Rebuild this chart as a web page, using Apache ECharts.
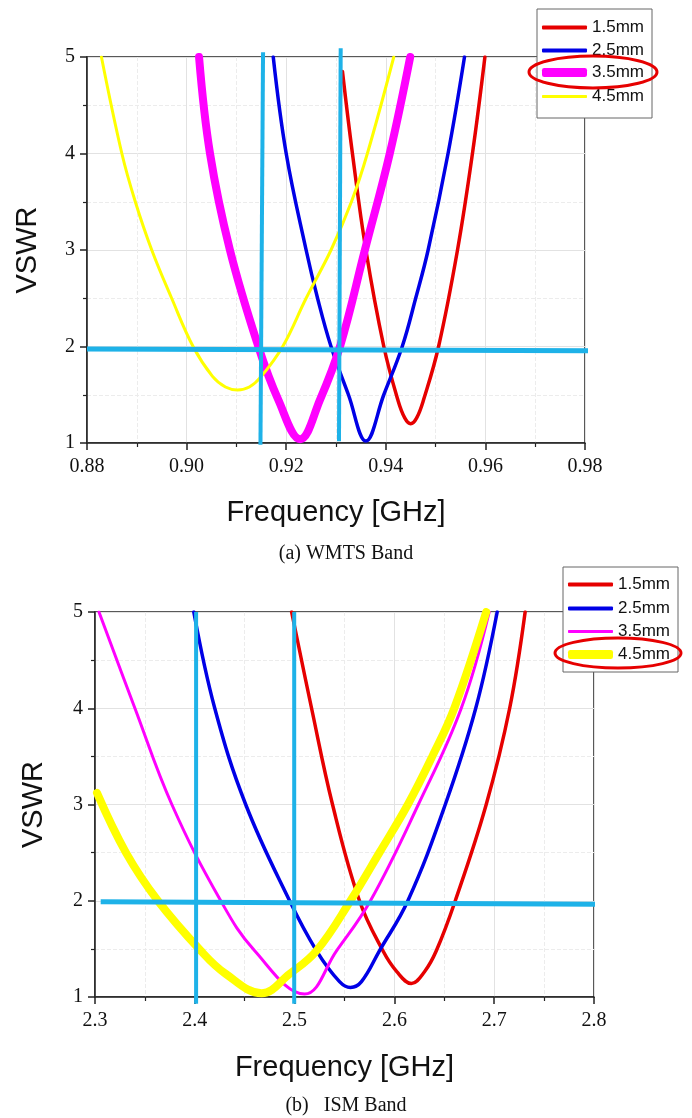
<!DOCTYPE html>
<html>
<head>
<meta charset="utf-8">
<style>
  html, body { margin: 0; padding: 0; background: #fff; }
  #chart { width: 692px; height: 1118px; }
</style>
<script src="https://cdn.jsdelivr.net/npm/echarts@6/dist/echarts.min.js"></script>
</head>
<body>
<div id="chart"></div>
<script>
// Series names (slot depth)
const seriesNames = ['1.5mm', '2.5mm', '3.5mm', '4.5mm'];

// (a) WMTS band: [frequency GHz, VSWR]
const wmts15 = [[0.9313, 4.85], [0.9333, 4.0], [0.9360, 3.0], [0.9396, 2.0], [0.9424, 1.45], [0.9438, 1.26], [0.9450, 1.2], [0.9462, 1.26], [0.9476, 1.45], [0.9506, 2.0], [0.9544, 3.0], [0.9574, 4.0], [0.9599, 5.0]];
const wmts25 = [[0.9174, 5.0], [0.9200, 4.0], [0.9240, 3.0], [0.9263, 2.5], [0.9290, 2.0], [0.9325, 1.5], [0.9360, 1.02], [0.9396, 1.5], [0.9433, 2.0], [0.9460, 2.5], [0.9485, 3.0], [0.9525, 4.0], [0.9558, 5.0]];
const wmts35 = [[0.9025, 5.0], [0.9047, 4.0], [0.9087, 3.0], [0.9144, 2.0], [0.9184, 1.45], [0.9228, 1.04], [0.9268, 1.45], [0.9308, 2.0], [0.9358, 3.0], [0.9408, 4.0], [0.9449, 5.0]];
const wmts45 = [[0.8829, 5.0], [0.8870, 4.0], [0.8897, 3.5], [0.8930, 3.0], [0.8970, 2.5], [0.9013, 2.0], [0.9052, 1.69], [0.9078, 1.58], [0.9102, 1.55], [0.9126, 1.58], [0.9150, 1.69], [0.9193, 2.0], [0.9240, 2.5], [0.9290, 3.0], [0.9331, 3.5], [0.9363, 4.0], [0.9416, 5.0]];

// (b) ISM band: [frequency GHz, VSWR]
const ism15 = [[2.497, 5.0], [2.517, 4.0], [2.538, 3.0], [2.565, 2.0], [2.5885, 1.48], [2.6026, 1.26], [2.617, 1.14], [2.630, 1.26], [2.642, 1.48], [2.661, 2.0], [2.692, 3.0], [2.7155, 4.0], [2.731, 5.0]];
const ism25 = [[2.399, 5.0], [2.420, 4.0], [2.451, 3.0], [2.495, 2.0], [2.522, 1.48], [2.545, 1.16], [2.556, 1.10], [2.567, 1.16], [2.585, 1.48], [2.6135, 2.0], [2.651, 3.0], [2.6815, 4.0], [2.703, 5.0]];
const ism35 = [[2.304, 5.0], [2.340, 4.0], [2.377, 3.0], [2.426, 2.0], [2.460, 1.48], [2.510, 1.03], [2.542, 1.48], [2.576, 2.0], [2.624, 3.0], [2.667, 4.0], [2.695, 5.0]];
const ism45 = [[2.302, 3.12], [2.331, 2.5], [2.363, 2.0], [2.406, 1.48], [2.431, 1.24], [2.467, 1.04], [2.495, 1.24], [2.522, 1.48], [2.556, 2.0], [2.585, 2.5], [2.6135, 3.0], [2.638, 3.5], [2.660, 4.0], [2.692, 5.0]];

// Band-edge markers and VSWR = 2 threshold
const wmtsEdgeLow = [[0.91535, 5.05], [0.91483, 0.983]];
const wmtsEdgeHigh = [[0.93094, 5.09], [0.9306, 1.017]];
const wmtsThreshold = [[0.8800, 1.975], [0.9808, 1.955]];
const ismEdgeLow = [[2.4013, 5.0], [2.4013, 0.93]];
const ismEdgeHigh = [[2.4996, 5.0], [2.4996, 0.93]];
const ismThreshold = [[2.3057, 1.99], [2.801, 1.964]];

// Axis ranges / tick spacing
const wmtsX = { min: 0.88, max: 0.98, interval: 0.02 };
const ismX = { min: 2.3, max: 2.8, interval: 0.1 };
const vswrY = { min: 1, max: 5, interval: 1 };

const colors = { '1.5mm': '#e60000', '2.5mm': '#0000e6', '3.5mm': '#ff00ff', '4.5mm': '#ffff00' };
const edgeColor = '#1eb2e8';
const serif = '"Liberation Serif", "Times New Roman", serif';
const sans = '"Liberation Sans", Arial, sans-serif';

function xAxisOf(gridIndex, range, digits, gap) {
  return {
    type: 'value', gridIndex, min: range.min, max: range.max, interval: range.interval,
    name: 'Frequency [GHz]', nameLocation: 'middle', nameGap: gap,
    nameTextStyle: { fontFamily: sans, fontSize: 29, color: '#111' },
    axisLine: { show: true, onZero: false, lineStyle: { color: '#222', width: 1.5 } },
    axisTick: { show: true, length: 7, lineStyle: { color: '#222', width: 1.5 } },
    minorTick: { show: true, splitNumber: 2, length: 4, lineStyle: { color: '#222', width: 1.2 } },
    axisLabel: { margin: 14, fontFamily: serif, fontSize: 20, color: '#111', formatter: v => v.toFixed(digits) },
    splitLine: { show: true, lineStyle: { color: '#e2e2e2', width: 1 } },
    minorSplitLine: { show: true, lineStyle: { color: '#ececec', width: 1, type: 'dashed' } }
  };
}
function yAxisOf(gridIndex, gap) {
  return {
    type: 'value', gridIndex, min: vswrY.min, max: vswrY.max, interval: vswrY.interval,
    name: 'VSWR', nameLocation: 'middle', nameGap: gap, nameRotate: 90,
    nameTextStyle: { fontFamily: sans, fontSize: 29, color: '#111' },
    axisLine: { show: true, onZero: false, lineStyle: { color: '#222', width: 1.5 } },
    axisTick: { show: true, length: 7, lineStyle: { color: '#222', width: 1.5 } },
    minorTick: { show: true, splitNumber: 2, length: 4, lineStyle: { color: '#222', width: 1.2 } },
    axisLabel: { margin: 12, fontFamily: serif, fontSize: 20, color: '#111' },
    splitLine: { show: true, lineStyle: { color: '#e2e2e2', width: 1 } },
    minorSplitLine: { show: true, lineStyle: { color: '#ececec', width: 1, type: 'dashed' } }
  };
}
function curve(name, data, idx, width) {
  return {
    name, type: 'line', xAxisIndex: idx, yAxisIndex: idx, data,
    smooth: 0.4, showSymbol: false, symbol: 'none',
    lineStyle: { color: colors[name], width, cap: 'round', join: 'round' },
    itemStyle: { color: colors[name] }, z: 2
  };
}
function marker(data, idx, width) {
  return {
    type: 'line', xAxisIndex: idx, yAxisIndex: idx, data, clip: false, silent: true,
    showSymbol: false, symbol: 'none', lineStyle: { color: edgeColor, width, cap: 'butt' }, z: 3
  };
}
function legendRow(name, left, centerY, thickness) {
  return {
    data: [name], orient: 'vertical', left, top: centerY - 9, padding: 0,
    icon: 'roundRect', itemWidth: 45, itemHeight: thickness, itemGap: 5,
    selectedMode: false, z: 6,
    textStyle: { fontFamily: sans, fontSize: 17, color: '#111', padding: [0, 0, 0, 0] }
  };
}

const chart = echarts.init(document.getElementById('chart'), null, { renderer: 'canvas' });
chart.setOption({
  animation: false,
  backgroundColor: '#fff',
  title: [
    { text: '(a) WMTS Band', left: 'center', top: 544, padding: 0, textStyle: { fontFamily: serif, fontSize: 20, fontWeight: 'normal', color: '#111' } },
    { text: '(b)   ISM Band', left: 'center', top: 1096, padding: 0, textStyle: { fontFamily: serif, fontSize: 20, fontWeight: 'normal', color: '#111' } }
  ],
  grid: [
    { left: 87, top: 57, width: 498, height: 386, show: true, borderColor: '#222', borderWidth: 1.5, backgroundColor: 'transparent' },
    { left: 95, top: 612, width: 499, height: 385, show: true, borderColor: '#222', borderWidth: 1.5, backgroundColor: 'transparent' }
  ],
  xAxis: [xAxisOf(0, wmtsX, 2, 55), xAxisOf(1, ismX, 1, 56)],
  yAxis: [yAxisOf(0, 45), yAxisOf(1, 47)],
  legend: [
    legendRow('1.5mm', 542, 28, 4),
    legendRow('2.5mm', 542, 51, 4),
    legendRow('3.5mm', 542, 73, 9),
    legendRow('4.5mm', 542, 97, 3),
    legendRow('1.5mm', 568, 585, 4),
    legendRow('2.5mm', 568, 609, 4),
    legendRow('3.5mm', 568, 632, 3),
    legendRow('4.5mm', 568, 655, 9)
  ],
  graphic: [
    { type: 'rect', shape: { x: 537, y: 9, width: 115, height: 109 }, style: { fill: '#fff', stroke: '#666', lineWidth: 1 }, z: 5, silent: true },
    { type: 'rect', shape: { x: 563, y: 567, width: 115, height: 105 }, style: { fill: '#fff', stroke: '#666', lineWidth: 1 }, z: 5, silent: true },
    { type: 'ellipse', shape: { cx: 593, cy: 72, rx: 64, ry: 16 }, style: { fill: 'none', stroke: '#e60000', lineWidth: 3 }, z: 7, silent: true },
    { type: 'ellipse', shape: { cx: 618, cy: 653, rx: 63, ry: 15 }, style: { fill: 'none', stroke: '#e60000', lineWidth: 3 }, z: 7, silent: true }
  ],
  series: [
    curve('1.5mm', wmts15, 0, 3.5),
    curve('2.5mm', wmts25, 0, 3.5),
    curve('3.5mm', wmts35, 0, 8),
    curve('4.5mm', wmts45, 0, 3),
    marker(wmtsEdgeLow, 0, 4),
    marker(wmtsEdgeHigh, 0, 4),
    marker(wmtsThreshold, 0, 5),
    curve('1.5mm', ism15, 1, 3.5),
    curve('2.5mm', ism25, 1, 3.5),
    curve('3.5mm', ism35, 1, 3),
    curve('4.5mm', ism45, 1, 8),
    marker(ismEdgeLow, 1, 4),
    marker(ismEdgeHigh, 1, 4),
    marker(ismThreshold, 1, 5)
  ]
});
</script>
</body>
</html>
